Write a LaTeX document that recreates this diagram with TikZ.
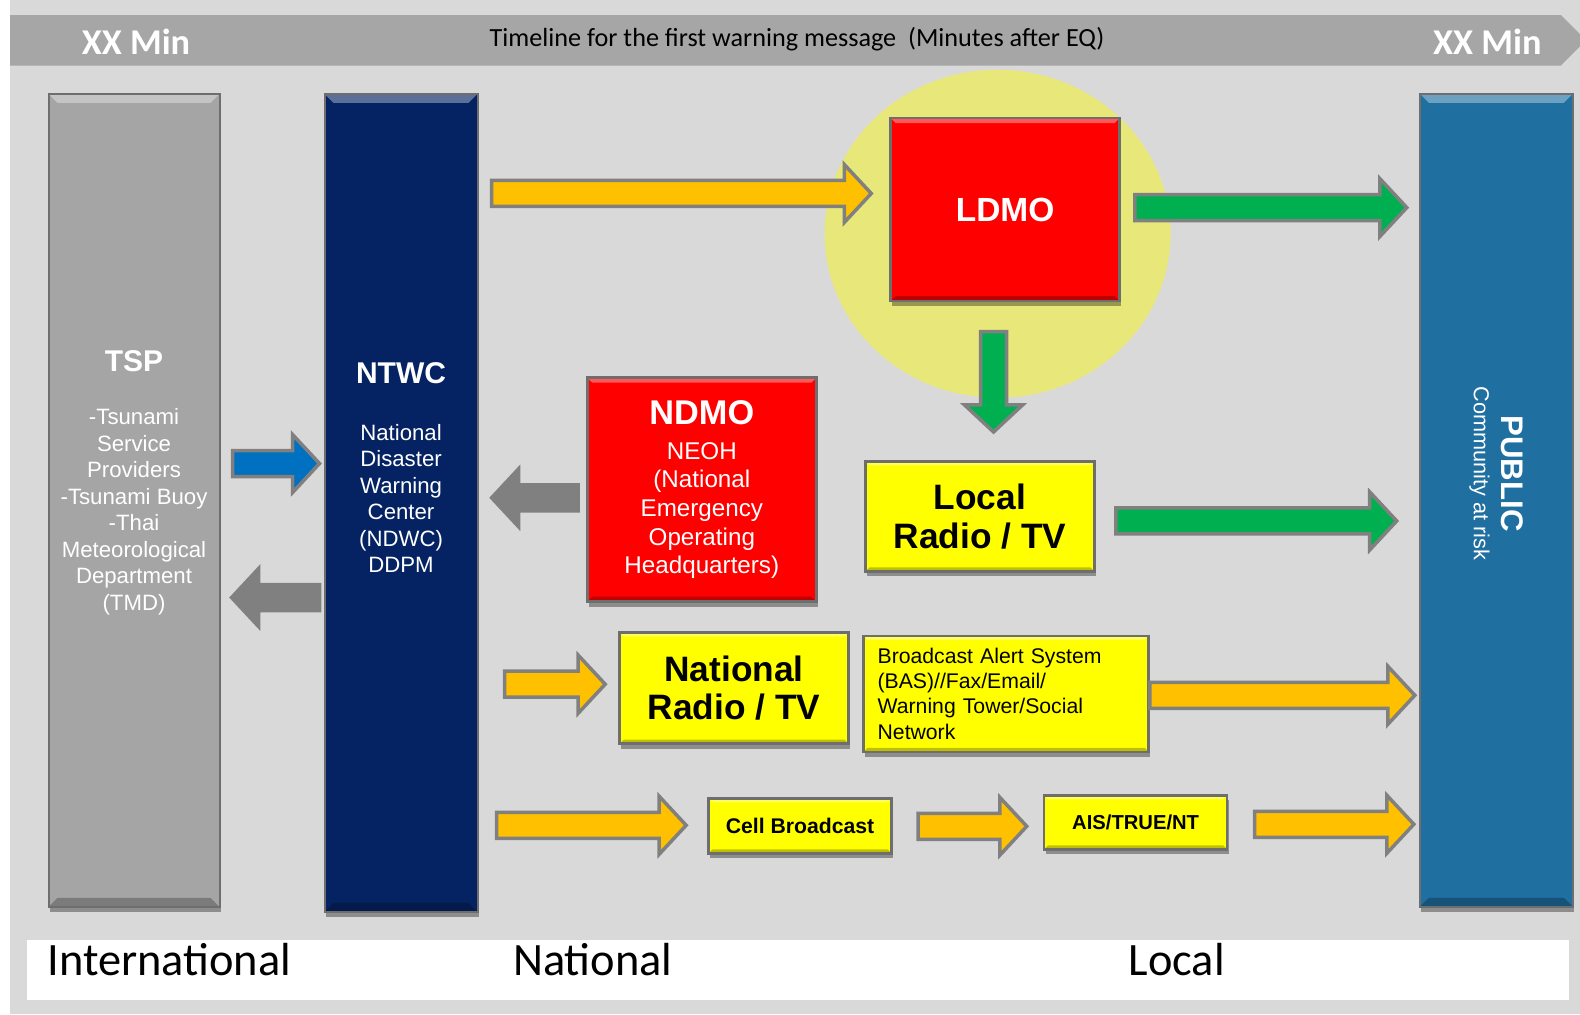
\documentclass[tikz,border=0pt]{standalone}
\usepackage{fontspec}
\setmainfont{Liberation Sans}
\newfontfamily\calibri{Carlito}
\usetikzlibrary{calc,shadows}
\definecolor{bggray}{RGB}{217,217,217}
\definecolor{bandgray}{RGB}{166,166,166}
\definecolor{tspgray}{RGB}{165,165,165}
\definecolor{ntwcblue}{RGB}{5,35,99}
\definecolor{publicblue}{RGB}{31,111,161}
\definecolor{zoneyellow}{RGB}{232,232,122}
\definecolor{boxred}{RGB}{255,0,0}
\definecolor{boxyellow}{RGB}{255,255,0}
\definecolor{arroworange}{RGB}{255,192,0}
\definecolor{arrowgreen}{RGB}{0,176,80}
\definecolor{arrowblue}{RGB}{0,112,192}
\definecolor{arrowgray}{RGB}{128,128,128}
\definecolor{edgegray}{RGB}{110,110,110}
\newcommand{\colhead}{\bfseries\fontsize{30}{30}\selectfont}
\tikzset{
	shadowed/.style={drop shadow={shadow xshift=1.5pt, shadow yshift=-5pt, opacity=.35, fill=black}},
	bevel/.style={path picture={
			\fill[white,opacity=.35] (path picture bounding box.north west) -- (path picture bounding box.north east)
			-- ([shift={(-#1,-#1)}]path picture bounding box.north east) -- ([shift={(#1,-#1)}]path picture bounding box.north west) -- cycle;
			\fill[black,opacity=.25] (path picture bounding box.south west) -- (path picture bounding box.south east)
			-- ([shift={(-#1,#1)}]path picture bounding box.south east) -- ([shift={(#1,#1)}]path picture bounding box.south west) -- cycle;
		}},
	colbar/.style={draw=edgegray, line width=2pt, minimum width=#1, minimum height=813pt, inner sep=0pt, shadowed, bevel=9pt},
	coltext/.style={text=white, align=center, inner sep=0pt, font=\fontsize{22.2}{26.5}\selectfont},
	redbox/.style={fill=boxred, draw=edgegray, line width=2.5pt, text=white, align=center, minimum width=229pt,
			shadowed, bevel=5pt, font=\bfseries\fontsize{33.5}{36}\selectfont},
	yellowbox/.style={fill=boxyellow, draw=edgegray, line width=2.5pt, align=center, minimum width=229pt,
			shadowed, bevel=4pt, font=\bfseries\fontsize{35.3}{38.3}\selectfont},
	bandtext/.style={text=white, inner sep=0pt, font=\calibri\bfseries\fontsize{36.3}{40}\selectfont},
	levellabel/.style={anchor=base west, inner sep=0pt, font=\calibri\fontsize{46.4}{50}\selectfont},
	blockarrow/.style={draw=arrowgray, line width=3.5pt, line join=miter}
}
% block arrow: fill colour, tail, tip
\newcommand{\blockarrow}[3]{%
	\path (#2) coordinate (arrow-tail) (#3) coordinate (arrow-tip);
	\path ($(arrow-tip)!27pt!(arrow-tail)$) coordinate (arrow-neck);
	\draw[blockarrow, fill=#1] ($(arrow-tail)!13pt!90:(arrow-tip)$) -- ($(arrow-neck)!13pt!90:(arrow-tip)$)
	-- ($(arrow-neck)!29pt!90:(arrow-tip)$) -- (arrow-tip) -- ($(arrow-neck)!29pt!-90:(arrow-tip)$)
	-- ($(arrow-neck)!13pt!-90:(arrow-tip)$) -- ($(arrow-tail)!13pt!-90:(arrow-tip)$) -- cycle;}

\begin{document}
\begin{tikzpicture}[x=1.0077pt,y=-1.0077pt]
	\useasboundingbox (0,0) rectangle (1568,1006.3);
	\fill[bggray] (10,0) rectangle (1568,1006.3);
	% timeline band
	\fill[bandgray] (10,15) -- (1549,15) -- (1568,34) -- (1568,46) -- (1549,65) -- (10,65) -- cycle;
	\node[bandtext] (xxleft) at (135,41) {XX Min};
	\node[anchor=base, inner sep=0pt, font=\calibri\fontsize{26.2}{30}\selectfont] (timeline) at (791,46) {Timeline for the first warning message\ \ (Minutes after EQ)};
	\node[bandtext] (xxright) at (1476,41) {XX Min};
	% local zone
	\fill[zoneyellow] (990,232) ellipse [x radius=173pt, y radius=164pt];
	% columns
	\node[colbar=171pt, fill=tspgray] (tsp) at (133,496.5) {};
	\node[colbar=153pt, fill=ntwcblue, minimum height=818pt] (ntwc) at (398,499) {};
	\node[colbar=153pt, fill=publicblue] (public) at (1485,496.5) {};
	\node[coltext] (tsptext) at (133,479) {{\colhead TSP}\\[27pt]-Tsunami\\Service\\Providers\\-Tsunami Buoy\\-Thai\\Meteorological\\Department\\(TMD)};
	\node[coltext] (ntwctext) at (398,464) {{\colhead NTWC}\\[30pt]National\\Disaster\\Warning\\Center\\(NDWC)\\DDPM};
	\node[coltext, rotate=-90, font=\fontsize{21.7}{26.5}\selectfont] (publictext) at (1485,470) {{\bfseries\fontsize{31.2}{31}\selectfont PUBLIC}\\[1pt]Community at risk};
	% boxes
	\node[redbox, minimum height=183pt] (ldmo) at (997.5,208) {LDMO};
	\node[redbox, minimum height=224pt, font=\fontsize{24.2}{28.7}\selectfont] (ndmo) at (696.5,486) {{\bfseries\fontsize{34.3}{34}\selectfont NDMO}\\[6pt]NEOH\\(National\\Emergency\\Operating\\Headquarters)};
	\node[yellowbox, minimum height=110pt] (local) at (972.5,512.5) {Local\\Radio / TV};
	\node[yellowbox, minimum height=111pt] (natradio) at (728.5,683) {National\\Radio / TV};
	\node[yellowbox, minimum height=116pt, text width=257pt, inner xsep=14pt, align=left, font=\fontsize{21.2}{25.2}\selectfont] (bas) at (998.5,688.5) {Broadcast Alert System\\(BAS)//Fax/Email/\\Warning Tower/Social\\Network};
	\node[yellowbox, minimum width=183pt, minimum height=55pt, font=\bfseries\fontsize{21.2}{24}\selectfont] (cell) at (794,819.5) {Cell Broadcast};
	\node[yellowbox, minimum width=183pt, minimum height=54pt, font=\bfseries\fontsize{20.2}{24}\selectfont] (ais) at (1127,816) {AIS/TRUE/NT};
	% arrows
	\blockarrow{arrowblue}{$(tsp.east)+(12,-36.5)$}{$(ntwc.west)+(-4,-39)$}
	\blockarrow{arrowgray}{$(ntwc.west)+(-4,94)$}{$(tsp.east)+(11,96.5)$}
	\blockarrow{arrowgray}{$(ndmo.west)+(-8,8)$}{$(ntwc.east)+(13,-5)$}
	\blockarrow{arroworange}{$(ntwc.east|-ldmo.west)+(13,-16)$}{$(ldmo.west)+(-18,-16)$}
	\blockarrow{arrowgreen}{$(ldmo.east)+(14,-2)$}{$(public.west|-ldmo.east)+(-12,-2)$}
	\blockarrow{arrowgreen}{$(ldmo.south)+(-11.5,29)$}{$(ldmo.south|-local.north)+(-11.5,-28)$}
	\blockarrow{arrowgreen}{$(local.east)+(20,4.5)$}{$(public.west|-local.east)+(-22,4.5)$}
	\blockarrow{arroworange}{$(ntwc.east|-natradio.west)+(26,-4)$}{$(natradio.west)+(-13,-4)$}
	\blockarrow{arroworange}{$(bas.east)+(0,1.5)$}{$(public.west|-bas.east)+(-4,1.5)$}
	\blockarrow{arroworange}{$(ntwc.east|-cell.west)+(18,-0.5)$}{$(cell.west)+(-21,-0.5)$}
	\blockarrow{arroworange}{$(cell.east)+(25,0.5)$}{$(ais.west|-cell.east)+(-16,0.5)$}
	\blockarrow{arroworange}{$(ais.east)+(26,2)$}{$(public.west|-ais.east)+(-5,2)$}
	% levels
	\fill[white] (27,933) rectangle (1557,992);
	\node[levellabel] (international) at (47,968) {International};
	\node[levellabel] (national) at (509,968) {National};
	\node[levellabel] (local-level) at (1120,968) {Local};
\end{tikzpicture}
\end{document}
